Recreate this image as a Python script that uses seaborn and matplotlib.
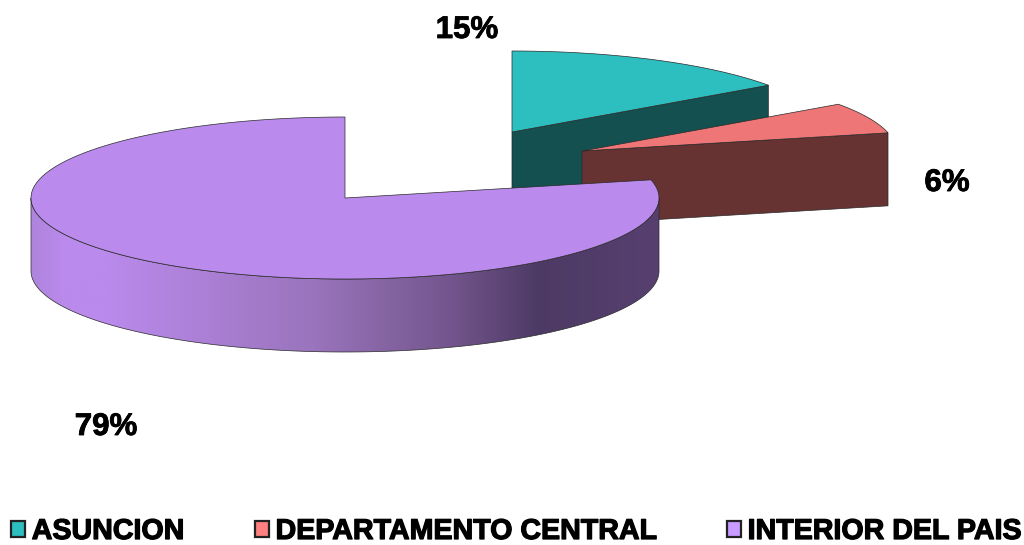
import numpy as np
import matplotlib
matplotlib.use("Agg")
import matplotlib.pyplot as plt
import matplotlib.patheffects as pe
import seaborn as sns
from matplotlib.colors import LinearSegmentedColormap
from matplotlib.patches import Patch, Polygon

# values
categories = ["ASUNCION", "DEPARTAMENTO CENTRAL", "INTERIOR DEL PAIS"]
shares = [15.2, 6.2, 78.6]
pct_labels = ["15%", "6%", "79%"]

top_colors = ["#2DBFBF", "#EE7676", "#BA8AEC"]
wall_colors = ["#14504F", "#673232", "#4D3A64"]
key_colors = ["#2DBFBF", "#FF8080", "#C79BFF"]

# pixel layout of the exploded slices
centers = [(512, 132), (582, 151), (345, 198)]
label_pos = [(467, 30), (947, 183), (106, 427)]
RX, RY, DEPTH = 314, 81, 73
LINE = "#2a2a2a"

sns.set_theme(style="white")
plt.rcParams["font.family"] = ["Liberation Sans", "DejaVu Sans"]


def arc(c, a0, a1, n=200):
    # angles clockwise from 12 o'clock
    t = np.radians(np.linspace(a0, a1, n))
    return np.column_stack([c[0] + RX * np.sin(t), c[1] - RY * np.cos(t)])


fig = plt.figure(figsize=(10.24, 5.45), dpi=100)
ax = fig.add_axes([0, 0, 1, 1])
ax.set_xlim(0, 1024)
ax.set_ylim(545, 0)
ax.axis("off")

edges = np.concatenate([[0], np.cumsum(shares)]) * 3.6

# the two back slices: top face plus the cut wall towards the viewer
for i in [0, 1]:
    c = centers[i]
    a0, a1 = edges[i], edges[i + 1]
    end = arc(c, a1, a1, 1)[0]
    wall = [c, end, end + [0, DEPTH], (c[0], c[1] + DEPTH)]
    ax.add_patch(Polygon(wall, fc=wall_colors[i], ec=LINE, lw=0.5, zorder=2 + i * 2))
    top = np.vstack([[c], arc(c, a0, a1)])
    ax.add_patch(Polygon(top, fc=top_colors[i], ec=LINE, lw=0.5, zorder=3 + i * 2))

# big slice: rim with horizontal shading, then top face
c = centers[2]
a0, a1 = edges[2], edges[3]
rim_top = arc(c, 90, 270)
rim = np.vstack([rim_top, rim_top[::-1] + [0, DEPTH]])
rim_patch = Polygon(rim, fc="none", ec=LINE, lw=0.5, zorder=7)
ax.add_patch(rim_patch)
shade = LinearSegmentedColormap.from_list(
    "rim",
    [(0.0, "#AE84DC"), (0.05, "#BA8AEC"), (0.12, "#BA8AEC"), (0.45, "#9A74BC"),
     (0.66, "#75578F"), (0.81, "#4D3A64"), (1.0, "#574070")],
)
img = ax.imshow(
    np.linspace(0, 1, 256)[None, :],
    cmap=shade,
    extent=(c[0] - RX, c[0] + RX, c[1] + RY + DEPTH, c[1]),
    aspect="auto",
    zorder=6,
)
img.set_clip_path(rim_patch)
ax.set_xlim(0, 1024)
ax.set_ylim(545, 0)
top = np.vstack([[c], arc(c, a0, a1, 600)])
ax.add_patch(Polygon(top, fc=top_colors[2], ec=LINE, lw=0.5, zorder=8))

heavy = [pe.withStroke(linewidth=0.6, foreground="black")]
for (x, y), s in zip(label_pos, pct_labels):
    ax.text(x, y, s, fontsize=22.5, fontweight="bold", color="black",
            ha="center", va="center", zorder=10, path_effects=heavy)

handles = [Patch(fc=k, ec="#222222", lw=1.6) for k in key_colors]
leg = ax.legend(
    handles, categories, ncol=3, frameon=False,
    loc="center", bbox_to_anchor=(516 / 1024, 14 / 545), bbox_transform=fig.transFigure,
    prop={"size": 20.6, "weight": "bold"},
    handlelength=0.5, handleheight=0.5, handletextpad=0.22,
    columnspacing=2.48, borderpad=0, labelcolor="black",
)
for t in leg.get_texts():
    t.set_path_effects([pe.withStroke(linewidth=0.9, foreground="black")])

fig.savefig("out.png", dpi=100, facecolor="white")
